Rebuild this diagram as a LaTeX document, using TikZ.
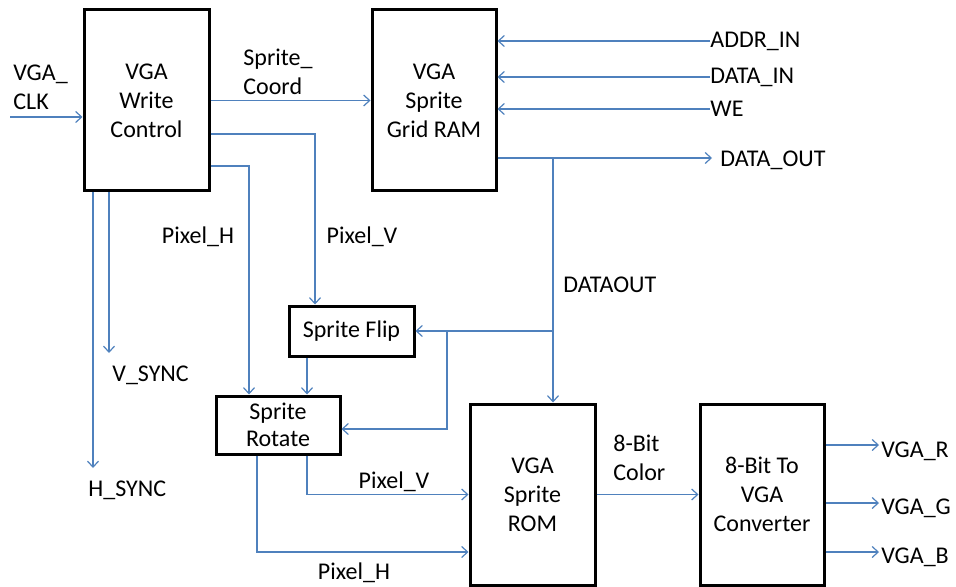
\documentclass[tikz,border=0pt]{standalone}
\usepackage{fontspec}
\setmainfont{Carlito}
\usetikzlibrary{arrows.meta, positioning, calc}
\definecolor{wire}{HTML}{4F81BD}

\tikzset{
  blk/.style={draw=black, line width=1.5pt, align=center, inner sep=1pt},
  sig/.style={draw=wire, line width=0.6pt, -{Straight Barb[length=3pt,width=5.5pt]}},
  lbl/.style={inner sep=0pt, align=left, anchor=west}
}

\begin{document}
\begin{tikzpicture}[x=0.5pt, y=-0.5pt, font=\fontsize{12}{14.5}\selectfont]
  \useasboundingbox (0,0) rectangle (956,587);
  % Blocks
  \node[blk, minimum width=62.5pt, minimum height=90.5pt] (wctl) at (146.5,100.5) {VGA\\Write\\Control};
  \node[blk, minimum width=62pt, minimum height=90.5pt] (ram) at (434,100.5) {VGA\\Sprite\\Grid RAM};
  \node[blk, minimum width=62.5pt, minimum height=25pt] (flip) at (351.5,331) {Sprite Flip};
  \node[blk, minimum width=62pt, minimum height=29pt] (rot) at (278,425) {Sprite\\[-1pt]Rotate};
  \node[blk, minimum width=62.5pt, minimum height=90.5pt] (rom) at (532.5,494.5) {VGA\\Sprite\\ROM};
  \node[blk, minimum width=62pt, minimum height=90.5pt] (conv) at (762,494.5) {8-Bit To\\VGA\\Converter};

  % Clock in and sync outputs
  \coordinate (clkin) at (10,117);
  \draw[sig] (clkin) -- (clkin -| wctl.west);
  \node[lbl] (clk) at (13,87) {VGA\_\\CLK};
  \coordinate (vs) at (109,353);
  \coordinate (hs) at (93,468);
  \draw[sig] ([xshift=-18.75pt]wctl.south) -- (vs);
  \draw[sig] ([xshift=-26.75pt]wctl.south) -- (hs);
  \node[lbl] (vsync) at (112,375) {V\_SYNC};
  \node[lbl] (hsync) at (88,490) {H\_SYNC};

  % Write control to RAM, flip and rotate
  \draw[sig] (wctl.east) -- (ram.west);
  \node[lbl] (coord) at (243,72) {Sprite\_\\Coord};
  \draw[sig] ([yshift=-16.75pt]wctl.east) -| ([xshift=-18.25pt]flip.north);
  \draw[sig] ([yshift=-32.75pt]wctl.east) -| ([xshift=-14.5pt]rot.north);
  \node (pxh1) at (198,237) {Pixel\_H};
  \node (pxv1) at (362,237) {Pixel\_V};

  % RAM ports
  \foreach \n/\t/\y in {addr/ADDR\_IN/41, din/DATA\_IN/77, we/WE/109}{
    \node[lbl] (\n) at (710,\y) {\t};
    \draw[sig] (\n.west) -- (\n.west -| ram.east);
  }
  \node[lbl] (dout) at (720,160) {DATA\_OUT};
  \draw[sig] ([yshift=-28.75pt]ram.east) coordinate (s) -- ([xshift=-4pt]s -| dout.west);

  % DATAOUT bus
  \coordinate (tap) at (553,158);
  \coordinate (br) at (447,331);
  \draw[sig] (tap) -- (tap |- rom.north);
  \draw[sig] (tap |- flip.east) -- (flip.east);
  \draw[sig] (br) |- ([yshift=-2pt]rot.east);
  \node[lbl] (dbus) at (563,285) {DATAOUT};

  % Flip, rotate and ROM
  \draw[sig] ([xshift=-22.25pt]flip.south) -- ([xshift=14.5pt]rot.north);
  \draw[sig] ([xshift=14.5pt]rot.south) |- (rom.west);
  \draw[sig] ([xshift=-10.5pt]rot.south) |- ([yshift=-28.75pt]rom.west);
  \node (pxv2) at (394,482) {Pixel\_V};
  \node (pxh2) at (354,573) {Pixel\_H};

  % Colour out
  \draw[sig] (rom.east) -- (conv.west);
  \node[lbl] (col) at (613,458) {8-Bit\\Color};
  \foreach \n/\t/\dy/\ly in {vgar/VGA\_R/24.75pt/451, vgag/VGA\_G/-4.25pt/508, vgab/VGA\_B/-28.75pt/557}{
    \node[lbl] (\n) at (881,\ly) {\t};
    \draw[sig] ([yshift=\dy]conv.east) coordinate (s) -- ([xshift=-1pt]s -| \n.west);
  }
\end{tikzpicture}
\end{document}
